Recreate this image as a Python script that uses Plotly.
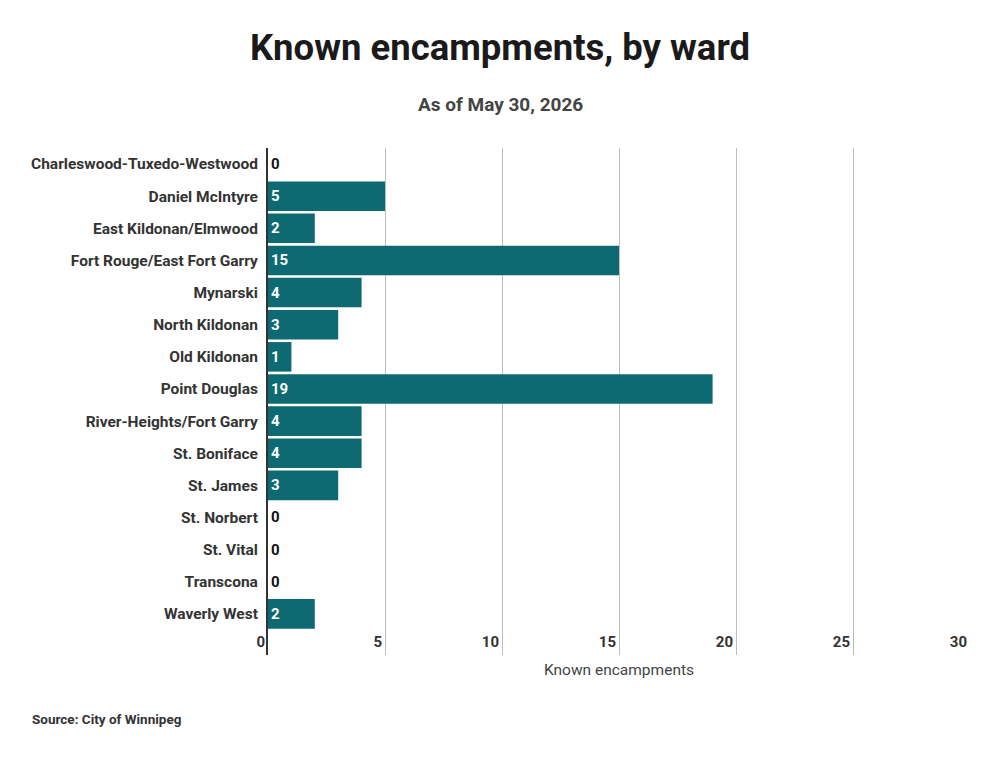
import plotly.graph_objects as go

wards = ["Charleswood-Tuxedo-Westwood", "Daniel McIntyre", "East Kildonan/Elmwood",
         "Fort Rouge/East Fort Garry", "Mynarski", "North Kildonan", "Old Kildonan",
         "Point Douglas", "River-Heights/Fort Garry", "St. Boniface", "St. James",
         "St. Norbert", "St. Vital", "Transcona", "Waverly West"]
encampments = [0, 5, 2, 15, 4, 3, 1, 19, 4, 4, 3, 0, 0, 0, 2]
x_ticks = [0, 5, 10, 15, 20, 25, 30]

FONT = "Roboto"
teal = "#0e6a72"

# plot box in pixels
L, R, T, B = 268, 30, 148, 102
pw = 1000 - L - R
ph = 757 - T - B


def px(x, y):
    # page pixel -> paper coords
    return (x - L) / pw, (757 - B - y) / ph


fig = go.Figure(go.Bar(
    x=encampments, y=wards, orientation="h",
    marker=dict(color=teal, line=dict(width=0)),
    text=[str(v) for v in encampments],
    textposition=["inside" if v > 0 else "outside" for v in encampments],
    insidetextanchor="start",
    insidetextfont=dict(family=FONT, size=15, color="white", weight="bold"),
    outsidetextfont=dict(family=FONT, size=15, color="#111", weight="bold"),
    cliponaxis=False,
    hoverinfo="skip",
))

sx, sy = px(500, 104)
srcx, srcy = px(30, 719)
fig.update_layout(
    width=1000, height=757,
    paper_bgcolor="white", plot_bgcolor="white",
    margin=dict(l=L, r=R, t=T, b=B, autoexpand=False),
    bargap=0.08,
    showlegend=False,
    title=dict(text="<b>Known encampments, by ward</b>", x=0.5, xanchor="center",
               y=0.937, yanchor="middle",
               font=dict(family=FONT, size=36.5, color="#1a1a1a")),
    annotations=[
        dict(text="<b>As of May 30, 2026</b>", xref="paper", yref="paper",
             x=sx, y=sy, xanchor="center", yanchor="middle", showarrow=False,
             font=dict(family=FONT, size=19, color="#444")),
        dict(text="<b>Source: City of Winnipeg</b>", xref="paper", yref="paper",
             x=srcx, y=srcy, xanchor="left", yanchor="middle", showarrow=False,
             font=dict(family=FONT, size=13.5, color="#333")),
    ],
)

fig.update_xaxes(
    range=[0, 30], tickvals=x_ticks, ticks="",
    ticklabelposition="outside left", ticklabelstandoff=-24, ticklabelshift=-3,
    tickfont=dict(family=FONT, size=15, color="#333", weight="bold"),
    showgrid=True, gridcolor="#bdbdbd", gridwidth=1,
    zeroline=False, showline=False, automargin=False,
    title=dict(text="Known encampments", font=dict(family=FONT, size=15.5, color="#444"),
               standoff=14),
)
fig.update_yaxes(
    categoryorder="array", categoryarray=wards,
    range=[15.28, -0.5],
    ticks="", ticklabelstandoff=5, automargin=False,
    tickfont=dict(family=FONT, size=15.5, color="#333", weight="bold"),
    showline=True, linecolor="#333", linewidth=2,
    showgrid=False,
)

fig.write_html("out.html", config={"displayModeBar": False},
               post_script="document.body.style.margin = '0';")
